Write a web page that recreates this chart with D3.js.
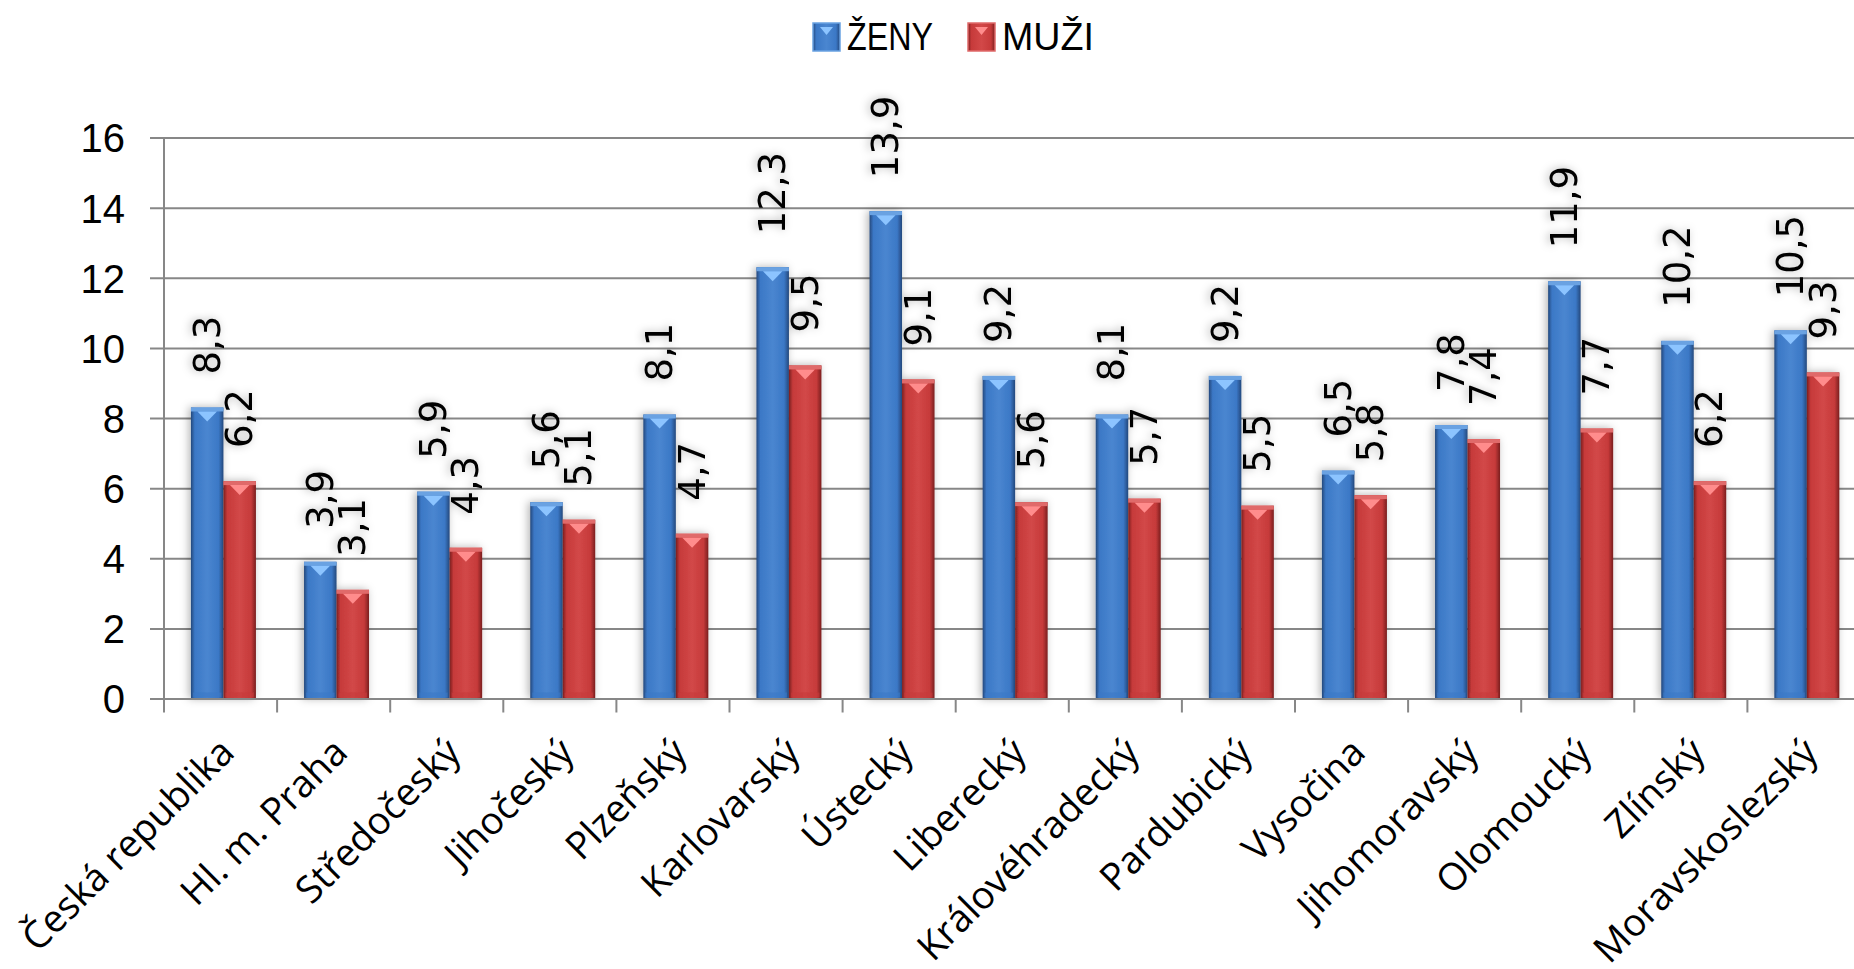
<!DOCTYPE html>
<html lang="cs">
<head>
  <meta charset="UTF-8">
  <title>Ženy a muži podle krajů</title>
  <script src="https://d3js.org/d3.v7.min.js"></script>
  <style>
    body { margin: 0; padding: 0; background: #fff; }
    svg { display: block; }
  </style>
</head>
<body>
  <svg width="1854" height="969"></svg>

  <script>
    // data
    const categories = ["Česká republika", "Hl. m. Praha", "Středočeský", "Jihočeský", "Plzeňský",
      "Karlovarský", "Ústecký", "Liberecký", "Královéhradecký", "Pardubický", "Vysočina",
      "Jihomoravský", "Olomoucký", "Zlínský", "Moravskoslezský"];
    const seriesNames = ["ŽENY", "MUŽI"];
    const zeny = [8.3, 3.9, 5.9, 5.6, 8.1, 12.3, 13.9, 9.2, 8.1, 9.2, 6.5, 7.8, 11.9, 10.2, 10.5];
    const muzi = [6.2, 3.1, 4.3, 5.1, 4.7, 9.5, 9.1, 5.6, 5.7, 5.5, 5.8, 7.4, 7.7, 6.2, 9.3];
    const yTicks = [0, 2, 4, 6, 8, 10, 12, 14, 16];

    const values = [zeny, muzi];
    const rows = categories.map((c, i) => ({cat: c, vals: seriesNames.map((s, k) => ({s, k, v: values[k][i]}))}));

    const svg = d3.select("svg");
    const grid = "#878787";
    const numFont = "'Liberation Sans', Arial, sans-serif";

    // plot area runs a little past the right edge, like the original
    const x = d3.scaleBand().domain(categories).range([164, 1860.5]).padding(0);
    const x1 = d3.scaleBand().domain(seriesNames).range([0, x.bandwidth()])
      .paddingInner(0).paddingOuter(0.74).align(0.56);
    const y = d3.scaleLinear().domain([0, 16]).range([698.5, 137.5]);

    const defs = svg.append("defs");
    const pal = {
      "ŽENY": {dark: "#24487c", mid: "#3b78c6", light: "#4a86d0", cap: "#6aa2e2", tri: "#8cc4ff"},
      "MUŽI": {dark: "#7a1f1f", mid: "#c63a3a", light: "#d24848", cap: "#e06a6a", tri: "#ff8c8c"}
    };
    seriesNames.forEach((s, k) => {
      const g = defs.append("linearGradient").attr("id", "grad" + k).attr("x1", 0).attr("x2", 1).attr("y1", 0).attr("y2", 0);
      g.append("stop").attr("offset", "0%").attr("stop-color", pal[s].dark);
      g.append("stop").attr("offset", "12%").attr("stop-color", pal[s].mid);
      g.append("stop").attr("offset", "50%").attr("stop-color", pal[s].light);
      g.append("stop").attr("offset", "85%").attr("stop-color", pal[s].mid);
      g.append("stop").attr("offset", "100%").attr("stop-color", pal[s].dark);
    });
    const shadow = defs.append("filter").attr("id", "shadow")
      .attr("x", "-50%").attr("y", "-10%").attr("width", "200%").attr("height", "120%");
    shadow.append("feDropShadow").attr("dx", -2).attr("dy", 0).attr("stdDeviation", 4)
      .attr("flood-color", "#000").attr("flood-opacity", 0.3);

    // horizontal gridlines with small ticks on the left
    svg.append("g")
      .attr("transform", "translate(164,0)")
      .call(d3.axisLeft(y).tickValues(yTicks).tickSize(14).tickFormat(d => d))
      .call(g => g.select(".domain").remove())
      .call(g => g.selectAll("line").attr("stroke", grid).attr("stroke-width", 2)
        .attr("x1", 1860 - 164))
      .call(g => g.selectAll("line").attr("x2", -14))
      .call(g => g.selectAll("text").attr("x", -39).attr("dy", "0.36em")
        .attr("font-family", numFont).attr("font-size", 40).attr("fill", "#000"));

    // vertical axis line
    svg.append("line")
      .attr("x1", 164).attr("x2", 164).attr("y1", y(16)).attr("y2", y(0))
      .attr("stroke", grid).attr("stroke-width", 2);

    // bars
    const groups = svg.append("g").selectAll("g.cat")
      .data(rows).join("g")
      .attr("class", "cat")
      .attr("transform", d => `translate(${x(d.cat)},0)`)
      .attr("filter", "url(#shadow)");

    const bar = groups.selectAll("g.bar")
      .data(d => d.vals).join("g")
      .attr("class", "bar")
      .attr("transform", d => `translate(${x1(d.s)},0)`);

    const bw = x1.bandwidth();
    bar.append("rect")
      .attr("x", 0).attr("width", bw)
      .attr("y", d => y(d.v)).attr("height", d => y(0) - y(d.v))
      .attr("fill", d => `url(#grad${d.k})`);
    // lighter rim on top and bottom
    bar.append("rect")
      .attr("x", 0).attr("width", bw)
      .attr("y", d => y(d.v)).attr("height", 4)
      .attr("fill", d => pal[d.s].cap);
    bar.append("rect")
      .attr("x", 2).attr("width", bw - 4)
      .attr("y", y(0) - 6).attr("height", 5)
      .attr("fill", d => pal[d.s].mid).attr("opacity", 0.6);
    bar.append("path")
      .attr("d", d => {
        const t = y(d.v) + 4;
        return `M${bw * 0.2},${t} L${bw * 0.8},${t} L${bw * 0.5},${t + 10} Z`;
      })
      .attr("fill", d => pal[d.s].tri);

    // value labels, rotated
    bar.append("text")
      .attr("transform", d => `translate(${bw / 2},${y(d.v) - 33}) rotate(-90)`)
      .attr("dominant-baseline", "central")
      .attr("font-family", "'DejaVu Sans', Verdana, sans-serif")
      .attr("font-size", 37)
      .attr("fill", "#000")
      .text(d => String(d.v).replace(".", ","));

    // category axis
    svg.append("g")
      .attr("transform", `translate(0,${y(0)})`)
      .call(d3.axisBottom(x).tickSize(0).tickFormat(""))
      .call(g => g.select(".domain").attr("stroke", grid).attr("stroke-width", 2))
      .call(g => g.selectAll(".tick").remove());

    svg.append("g").selectAll("line")
      .data(categories).join("line")
      .attr("x1", d => x(d)).attr("x2", d => x(d))
      .attr("y1", y(0)).attr("y2", y(0) + 14)
      .attr("stroke", grid).attr("stroke-width", 2);

    svg.append("g").selectAll("text")
      .data(categories).join("text")
      .attr("transform", d => `translate(${x(d) + x.bandwidth() / 2 + 16},${y(0) + 56}) rotate(-45)`)
      .attr("text-anchor", "end")
      .attr("font-family", "'Open Sans', 'Noto Sans', sans-serif")
      .attr("font-size", 38)
      .attr("fill", "#000")
      .text(d => d);

    // legend (narrow lettering like the original)
    const legendX = [813, 968];
    const legendTextWidth = [86, 92];
    const legend = svg.append("g").selectAll("g")
      .data(seriesNames).join("g")
      .attr("transform", (d, i) => `translate(${legendX[i]},23)`);
    legend.append("rect")
      .attr("width", 27).attr("height", 28)
      .attr("fill", (d, i) => `url(#grad${i})`)
      .attr("stroke", d => pal[d].cap).attr("stroke-width", 1.5);
    legend.append("path")
      .attr("d", "M7,4 L20,4 L13.5,12 Z")
      .attr("fill", d => pal[d].tri);
    legend.append("text")
      .attr("x", 34).attr("y", 27)
      .attr("textLength", (d, i) => legendTextWidth[i])
      .attr("lengthAdjust", "spacingAndGlyphs")
      .attr("font-family", numFont)
      .attr("font-size", 38)
      .attr("fill", "#000")
      .text(d => d);
  </script>
</body>
</html>
